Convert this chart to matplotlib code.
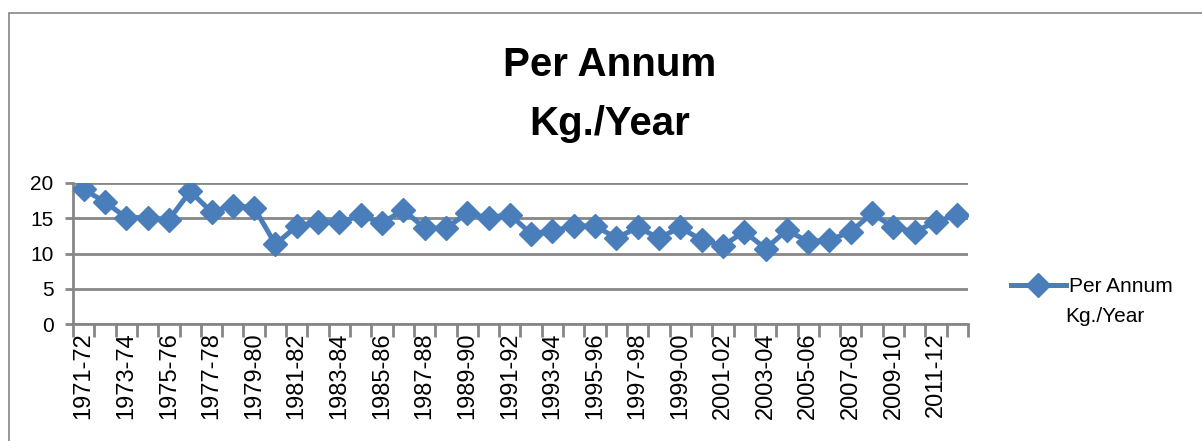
import matplotlib

matplotlib.use("Agg")
import matplotlib.pyplot as plt
from matplotlib.patches import Rectangle

plt.rcParams["font.family"] = ["Liberation Sans", "DejaVu Sans"]

# Per-capita consumption, kg per year, one value per fiscal year.
start_years = list(range(1971, 2013))
years = [f"{y}-{(y + 1) % 100:02d}" for y in start_years]
per_annum = [
    19.1, 17.3, 15.1, 15.1, 14.8, 18.8, 15.9, 16.8, 16.5, 11.3,
    13.9, 14.4, 14.4, 15.4, 14.3, 16.2, 13.6, 13.6, 15.7, 15.1,
    15.5, 12.8, 13.2, 13.9, 13.9, 12.2, 13.7, 12.2, 13.7, 11.9,
    11.1, 13.1, 10.7, 13.3, 11.7, 11.9, 13.1, 15.7, 13.7, 13.1,
    14.5, 15.5,
]
y_ticks = [0, 5, 10, 15, 20]

BLUE = "#4a7ebb"
GRID = "#868686"

W, H = 1202, 441
fig = plt.figure(figsize=(W / 100, H / 100), dpi=100)

# Chart-area border (as in the spreadsheet export)
fig.patches.append(Rectangle((9 / W, -0.05), 1.1, 1 - 13 / H + 0.05,
                             transform=fig.transFigure, fill=False,
                             edgecolor="#868686", linewidth=1.2))

ax = fig.add_axes([73 / W, 1 - 324 / H, (968 - 73) / W, (324 - 183) / H])
n = len(years)
x = list(range(n))
line, = ax.plot(x, per_annum, color=BLUE, linewidth=3.6, marker="D",
                markersize=12, markeredgecolor=BLUE, label="Per Annum",
                solid_joinstyle="round", zorder=3)

ax.set_xlim(-0.5, n - 0.5)
ax.set_ylim(0, 20)
ax.set_yticks(y_ticks)
ax.yaxis.grid(True, color=GRID, linewidth=2)
ax.set_axisbelow(True)
for side in ("top", "right"):
    ax.spines[side].set_visible(False)
for side in ("left", "bottom"):
    ax.spines[side].set_color(GRID)
    ax.spines[side].set_linewidth(2)
ax.tick_params(axis="y", colors=GRID, labelcolor="black", labelsize=15,
               length=6, width=2, direction="out", pad=8)

# category boundaries carry the tick marks, labels sit on every other point
ax.set_xticks([i - 0.5 for i in range(n + 1)])
ax.set_xticklabels([])
ax.tick_params(axis="x", colors=GRID, length=9, width=2, direction="out")
for i in range(0, n, 2):
    ax.text(i, -1.2, years[i], rotation=90, ha="center", va="top",
            fontsize=17, transform=ax.transData)

fig.text(610 / W, 1 - 65 / H, "Per Annum", ha="center", va="center",
         fontsize=29, fontweight="bold")
fig.text(610 / W, 1 - 124 / H, "Kg./Year", ha="center", va="center",
         fontsize=29, fontweight="bold")

fig.legend(handles=[line], loc="center left", bbox_to_anchor=(1003 / W, 1 - 287 / H),
           frameon=False, fontsize=15, handlelength=2.6, handletextpad=0.15,
           borderaxespad=0)
fig.text(1065 / W, 1 - 316 / H, "Kg./Year", ha="left", va="center", fontsize=15)

fig.savefig("out.png", dpi=100)
